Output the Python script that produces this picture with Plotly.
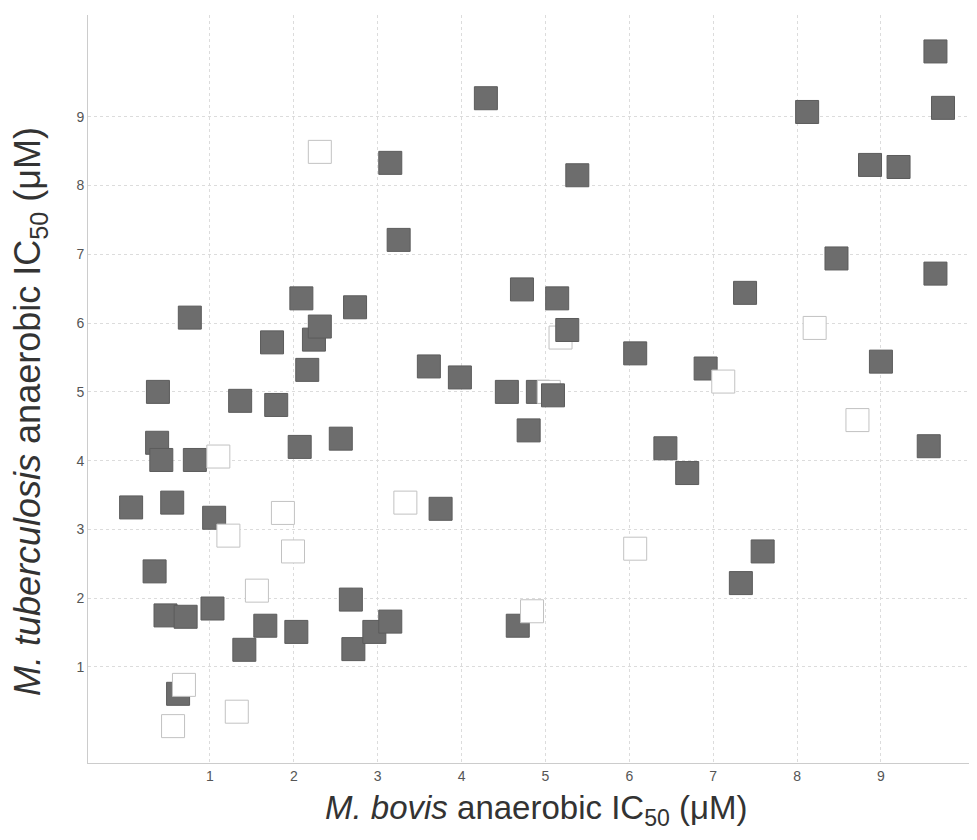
import plotly.graph_objects as go

# M. bovis (x) and M. tuberculosis (y) anaerobic IC50 values (µM)
filled_x = [0.06, 0.38, 0.37, 0.42, 0.55, 0.34, 0.47, 0.71, 0.76, 0.82,
            1.03, 1.05, 0.62, 1.36, 1.41, 1.66, 1.74, 1.79, 2.03, 2.07,
            2.09, 2.16, 2.24, 2.31, 2.56, 2.73, 2.68, 2.71, 2.96, 3.15,
            3.15, 3.25, 3.61, 3.75, 3.98, 4.29, 4.54, 4.72, 4.80, 4.91,
            5.14, 5.38, 4.67, 6.07, 6.43, 6.69, 6.91, 7.33, 7.38, 7.59,
            8.12, 8.47, 8.87, 9.00, 9.21, 9.57, 9.65, 9.65, 9.74]
filled_y = [3.32, 5.00, 4.26, 4.01, 3.39, 2.39, 1.75, 1.73, 6.08, 4.01,
            1.85, 3.17, 0.61, 4.87, 1.25, 1.60, 5.72, 4.81, 1.51, 4.20,
            6.36, 5.32, 5.76, 5.95, 4.32, 6.23, 1.98, 1.26, 1.51, 1.66,
            8.33, 7.21, 5.37, 3.30, 5.21, 9.27, 5.00, 6.49, 4.44, 5.00,
            6.36, 8.15, 1.60, 5.56, 4.18, 3.82, 5.34, 2.22, 6.44, 2.68,
            9.07, 6.94, 8.30, 5.44, 8.27, 4.21, 9.95, 6.72, 9.13]

open_x = [1.10, 1.22, 1.87, 1.99, 1.56, 0.69, 1.32, 0.56, 2.31, 5.18,
          5.04, 3.33, 6.07, 4.84, 8.21, 7.12, 8.72]
open_y = [4.06, 2.91, 3.24, 2.68, 2.11, 0.74, 0.35, 0.14, 8.49, 5.79,
          5.00, 3.39, 2.72, 1.81, 5.93, 5.15, 4.59]

# filled points that sit on top of open ones
top_x = [5.26, 5.09]
top_y = [5.90, 4.95]

tick_vals = [1, 2, 3, 4, 5, 6, 7, 8, 9]
tick_text = ["1", "2", "3", "4", "5", "6", "7", "8", "9"]

FILL = "#6d6d6d"
EDGE = "#5c5c5c"
OPEN_EDGE = "#c2c2c2"
MS = 23

fig = go.Figure()
fig.add_trace(go.Scatter(x=filled_x, y=filled_y, mode="markers",
                         marker=dict(symbol="square", size=MS, color=FILL,
                                     line=dict(color=EDGE, width=1)),
                         showlegend=False))
fig.add_trace(go.Scatter(x=open_x, y=open_y, mode="markers",
                         marker=dict(symbol="square", size=MS, color="#ffffff",
                                     line=dict(color=OPEN_EDGE, width=1)),
                         showlegend=False))
fig.add_trace(go.Scatter(x=top_x, y=top_y, mode="markers",
                         marker=dict(symbol="square", size=MS, color=FILL,
                                     line=dict(color=EDGE, width=1)),
                         showlegend=False))

axis_common = dict(
    showgrid=True, gridcolor="#dcdcdc", gridwidth=1, griddash="dot",
    zeroline=False, showline=True, linecolor="#cccccc", linewidth=1,
    ticks="", tickfont=dict(family="Liberation Sans, Arial, sans-serif",
                            size=14, color="#555555"),
    tickvals=tick_vals, ticktext=tick_text,
)

PW = 881  # plot-area width in px
PH = 748  # plot-area height in px

fig.update_layout(
    width=961, height=824,
    margin=dict(l=80, r=0, t=7, b=69),
    paper_bgcolor="white", plot_bgcolor="white",
    xaxis=dict(range=[-0.454, 10.05], **axis_common),
    yaxis=dict(range=[-0.396, 10.48], **axis_common),
    font=dict(family="Liberation Sans, Arial, sans-serif", color="#333333"),
    annotations=[
        dict(text="<i>M. bovis</i> anaerobic IC<sub>50</sub> (μM)",
             xref="paper", yref="paper", x=(536 - 88) / PW, y=(763 - 810) / PH,
             xanchor="center", yanchor="middle", showarrow=False,
             font=dict(size=33, color="#333333")),
        dict(text="<i>M. tuberculosis</i> anaerobic IC<sub>50</sub> (μM)",
             xref="paper", yref="paper", x=(30 - 88) / PW, y=(763 - 412) / PH,
             xanchor="center", yanchor="middle", showarrow=False, textangle=-90,
             font=dict(size=36, color="#333333")),
    ],
)

fig.write_html("out.html")
